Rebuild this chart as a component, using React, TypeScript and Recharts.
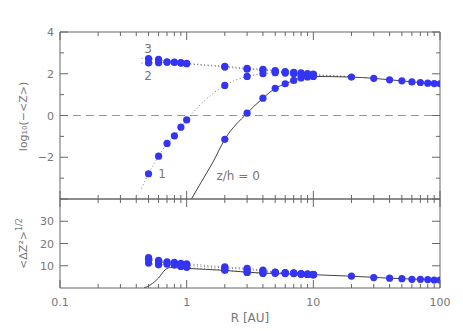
import React from 'react';
import {
  ComposedChart, Scatter, Line, XAxis, YAxis, ReferenceLine, ReferenceDot, Label,
} from 'recharts';

// radii of the simulated points
const R_SIM = [0.5, 0.6, 0.7, 0.8, 0.9, 1, 2, 3, 4, 5, 6, 7, 8, 9, 10];
const R_MID = [2, 3, 4, 5, 6, 7, 8, 9, 10, 20, 30, 40, 50, 60, 70, 80, 90, 100];
const R_DOTTED = [0.44, 0.5, 0.6, 0.7, 0.8, 0.9, 1, 2, 3, 4, 5, 6, 7, 8, 9, 10, 20];

// top panel: log10(-<Z>)
const LOGZ_3 = [2.72, 2.69, 2.57, 2.56, 2.53, 2.5, 2.36, 2.26, 2.21, 2.15, 2.1, 2.07, 2.04, 2.01, 1.98];
const LOGZ_2 = [2.52, 2.53, 2.55, 2.54, 2.51, 2.48, 2.32, 2.22, 2.17, 2.12, 2.07, 2.04, 2.0, 1.97, 1.95];
const LOGZ_1 = [-2.79, -1.95, -1.34, -0.98, -0.56, -0.21, 1.44, 1.87, 2.0, 2.05, 2.03, 2.0, 1.93, 1.9, 1.89];
const LOGZ_0 = [-1.14, 0.11, 0.83, 1.3, 1.52, 1.68, 1.8, 1.85, 1.87, 1.84, 1.78, 1.71, 1.66, 1.61, 1.58, 1.55, 1.53, 1.52];

// model curves, top panel
const LOGZ_CURVE_3 = [2.74, ...LOGZ_3, 1.86];
const LOGZ_CURVE_2 = [2.51, ...LOGZ_2, 1.86];
const LOGZ_CURVE_1 = [-3.5, ...LOGZ_1, 1.86];
const R_MODEL_0 = [1.09, 1.3, 1.6, 2, 3, 4, 5, 6, 7, 8, 9, 10, 20, 30, 40, 50, 60, 70, 80, 90, 100];
const LOGZ_MODEL_0 = [-4, -3.2, -2.27, -1.14, 0.11, 0.83, 1.3, 1.52, 1.68, 1.8, 1.85, 1.87, 1.84, 1.78, 1.71, 1.66, 1.61, 1.58, 1.55, 1.53, 1.52];

// bottom panel: <dZ^2>^(1/2)
const DZ_3 = [13.7, 12.4, 11.8, 11.5, 11.1, 10.9, 9.5, 8.8, 8.0, 7.2, 6.9, 6.8, 6.5, 6.3, 6.1];
const DZ_2 = [12.9, 11.8, 11.3, 11.0, 10.6, 10.3, 9.0, 8.3, 7.6, 7.0, 6.8, 6.7, 6.4, 6.2, 6.0];
const DZ_1 = [11.2, 10.4, 10.7, 10.3, 9.7, 9.3, 8.1, 7.1, 6.6, 6.8, 6.6, 6.6, 6.3, 6.1, 6.0];
const DZ_0 = [8.0, 7.0, 6.6, 6.6, 6.5, 6.5, 6.2, 6.1, 5.9, 5.3, 4.7, 4.4, 4.2, 3.9, 3.9, 3.8, 3.6, 3.6];
const R_DZ_MODEL = [0.46, 0.52, 0.6, 0.68, 0.75, 1, 2, 3, 4, 5, 7, 10, 20, 30, 40, 50, 60, 70, 80, 90, 100];
const DZ_MODEL_0 = [0, 1.5, 4.5, 8.3, 9.2, 8.8, 7.9, 7.1, 6.7, 6.5, 6.3, 6.0, 5.3, 4.8, 4.4, 4.2, 4.0, 3.9, 3.8, 3.7, 3.6];

// axes
const X_TICKS = [0.1, 0.2, 0.3, 0.4, 0.5, 0.6, 0.7, 0.8, 0.9, 1, 2, 3, 4, 5, 6, 7, 8, 9, 10, 20, 30, 40, 50, 60, 70, 80, 90, 100];
const X_MAJOR = [0.1, 1, 10, 100];
const X_LABELS = ['0.1', '1', '10', '100'];
const TOP_Y_TICKS = [-4, -3, -2, -1, 0, 1, 2, 3, 4];
const TOP_Y_MAJOR = [-4, -2, 0, 2, 4];
const TOP_Y_LABELED = [-2, 0, 2, 4];
const BOT_Y_TICKS = [10, 20, 30];

const FONT = '"DejaVu Sans", sans-serif';
const AXIS = '#666';
const TEXT = '#777';
const DOT = '#3434f4';

const pts = (xs: number[], ys: number[]) => xs.map((x, i) => ({ x, y: ys[i] }));

const fmtNum = (v: number) => (v < 0 ? `\u2212${-v}` : `${v}`);

type Side = 'top' | 'bottom' | 'left' | 'right';

const tickFactory = (side: Side, majors: number[], labeled: number[], fmt: (v: number) => string) =>
  (props: any) => {
    const { x, y, payload } = props;
    const v = payload.value as number;
    const len = majors.includes(v) ? 8 : 4;
    let x2 = x;
    let y2 = y;
    if (side === 'bottom') y2 = y - len;
    if (side === 'top') y2 = y + len;
    if (side === 'left') x2 = x + len;
    if (side === 'right') x2 = x - len;
    const show = labeled.includes(v);
    return (
      <g>
        <line x1={x} y1={y} x2={x2} y2={y2} stroke={AXIS} strokeWidth={1} />
        {show && side === 'bottom' && (
          <text x={x} y={y + 18} textAnchor="middle" fill={TEXT} fontSize={11} fontFamily={FONT}>{fmt(v)}</text>
        )}
        {show && side === 'left' && (
          <text x={x - 6} y={y + 4} textAnchor="end" fill={TEXT} fontSize={11} fontFamily={FONT}>{fmt(v)}</text>
        )}
      </g>
    );
  };

const xLabel = (v: number) => X_LABELS[X_MAJOR.indexOf(v)] ?? '';

const dotShape = (p: any) => <circle cx={p.cx} cy={p.cy} r={3.6} fill={DOT} />;

const axisCommon = {
  tickSize: 0,
  tickMargin: 0,
  interval: 0 as const,
  allowDataOverflow: true,
  axisLine: { stroke: AXIS },
};

const TopYLabel = ({ viewBox }: any) => {
  const cx = viewBox.x + 27;
  const cy = viewBox.y + viewBox.height / 2 + 1;
  return (
    <text x={cx} y={cy} transform={`rotate(-90, ${cx}, ${cy})`} textAnchor="middle" fill={TEXT} fontSize={11} fontFamily={FONT}>
      log₁₀(−&lt;Z&gt;)
    </text>
  );
};

const BotYLabel = ({ viewBox }: any) => {
  const cx = viewBox.x + 27;
  const cy = viewBox.y + viewBox.height / 2;
  return (
    <text x={cx} y={cy} transform={`rotate(-90, ${cx}, ${cy})`} textAnchor="middle" fill={TEXT} fontSize={11} fontFamily={FONT}>
      <tspan>&lt;ΔZ²&gt;</tspan>
      <tspan dy={-5} fontSize={8}>1/2</tspan>
    </text>
  );
};

const XTitle = ({ viewBox }: any) => (
  <text x={viewBox.x + viewBox.width / 2} y={viewBox.y + 34} textAnchor="middle" fill={TEXT} fontSize={12} fontFamily={FONT}>
    R [AU]
  </text>
);

const textLabel = (value: string) => ({ value, position: 'center' as const, fill: TEXT, fontSize: 12, fontFamily: FONT });

const TopPanel = () => (
  <ComposedChart width={463} height={200} margin={{ top: 0, right: 0, bottom: 0, left: 0 }}>
    <XAxis dataKey="x" type="number" scale="log" domain={[0.1, 100]} ticks={X_TICKS} height={1}
      {...axisCommon} tick={tickFactory('bottom', X_MAJOR, [], xLabel)} />
    <XAxis xAxisId="top" dataKey="x" orientation="top" type="number" scale="log" domain={[0.1, 100]} ticks={X_TICKS} height={32}
      {...axisCommon} tick={tickFactory('top', X_MAJOR, [], xLabel)} />
    <YAxis type="number" domain={[-4, 4]} ticks={TOP_Y_TICKS} width={60}
      {...axisCommon} tick={tickFactory('left', TOP_Y_MAJOR, TOP_Y_LABELED, fmtNum)}>
      <Label content={<TopYLabel />} />
    </YAxis>
    <YAxis yAxisId="right" orientation="right" type="number" domain={[-4, 4]} ticks={TOP_Y_TICKS} width={23}
      {...axisCommon} tick={tickFactory('right', TOP_Y_MAJOR, [], fmtNum)} />
    <ReferenceLine y={0} stroke="#999" strokeDasharray="8 5" />
    <Line data={pts(R_DOTTED, LOGZ_CURVE_3)} dataKey="y" type="monotone" stroke="#777" strokeDasharray="1 2.5" dot={false} isAnimationActive={false} />
    <Line data={pts(R_DOTTED, LOGZ_CURVE_2)} dataKey="y" type="monotone" stroke="#777" strokeDasharray="1 2.5" dot={false} isAnimationActive={false} />
    <Line data={pts(R_DOTTED, LOGZ_CURVE_1)} dataKey="y" type="monotone" stroke="#777" strokeDasharray="1 2.5" dot={false} isAnimationActive={false} />
    <Line data={pts(R_MODEL_0, LOGZ_MODEL_0)} dataKey="y" type="monotone" stroke="#444" dot={false} isAnimationActive={false} />
    <Scatter data={pts(R_SIM, LOGZ_3)} dataKey="y" shape={dotShape} isAnimationActive={false} />
    <Scatter data={pts(R_SIM, LOGZ_2)} dataKey="y" shape={dotShape} isAnimationActive={false} />
    <Scatter data={pts(R_SIM, LOGZ_1)} dataKey="y" shape={dotShape} isAnimationActive={false} />
    <Scatter data={pts(R_MID, LOGZ_0)} dataKey="y" shape={dotShape} isAnimationActive={false} />
    <ReferenceDot x={0.495} y={3.18} r={1} fill="none" stroke="none" label={textLabel('3')} />
    <ReferenceDot x={0.495} y={1.92} r={1} fill="none" stroke="none" label={textLabel('2')} />
    <ReferenceDot x={0.64} y={-2.79} r={1} fill="none" stroke="none" label={textLabel('1')} />
    <ReferenceDot x={2.55} y={-2.87} r={1} fill="none" stroke="none" label={textLabel('z/h = 0')} />
  </ComposedChart>
);

const BottomPanel = () => (
  <ComposedChart width={463} height={133} margin={{ top: 0, right: 0, bottom: 0, left: 0 }}>
    <XAxis dataKey="x" type="number" scale="log" domain={[0.1, 100]} ticks={X_TICKS} height={43}
      {...axisCommon} tick={tickFactory('bottom', X_MAJOR, X_MAJOR, xLabel)}>
      <Label content={<XTitle />} />
    </XAxis>
    <XAxis xAxisId="top" dataKey="x" orientation="top" type="number" scale="log" domain={[0.1, 100]} ticks={X_TICKS} height={1}
      {...axisCommon} tick={tickFactory('top', X_MAJOR, [], xLabel)} />
    <YAxis type="number" domain={[0, 40]} ticks={BOT_Y_TICKS} width={60}
      {...axisCommon} tick={tickFactory('left', BOT_Y_TICKS, BOT_Y_TICKS, fmtNum)}>
      <Label content={<BotYLabel />} />
    </YAxis>
    <YAxis yAxisId="right" orientation="right" type="number" domain={[0, 40]} ticks={BOT_Y_TICKS} width={23}
      {...axisCommon} tick={tickFactory('right', BOT_Y_TICKS, [], fmtNum)} />
    <Line data={pts(R_SIM, DZ_3)} dataKey="y" type="monotone" stroke="#777" strokeDasharray="1 2.5" dot={false} isAnimationActive={false} />
    <Line data={pts(R_SIM, DZ_2)} dataKey="y" type="monotone" stroke="#777" strokeDasharray="1 2.5" dot={false} isAnimationActive={false} />
    <Line data={pts(R_SIM, DZ_1)} dataKey="y" type="monotone" stroke="#777" strokeDasharray="1 2.5" dot={false} isAnimationActive={false} />
    <Line data={pts(R_DZ_MODEL, DZ_MODEL_0)} dataKey="y" type="monotone" stroke="#444" dot={false} isAnimationActive={false} />
    <Scatter data={pts(R_SIM, DZ_3)} dataKey="y" shape={dotShape} isAnimationActive={false} />
    <Scatter data={pts(R_SIM, DZ_2)} dataKey="y" shape={dotShape} isAnimationActive={false} />
    <Scatter data={pts(R_SIM, DZ_1)} dataKey="y" shape={dotShape} isAnimationActive={false} />
    <Scatter data={pts(R_MID, DZ_0)} dataKey="y" shape={dotShape} isAnimationActive={false} />
  </ComposedChart>
);

export default function App() {
  return (
    <div style={{ position: 'absolute', left: 0, top: 0, width: 463, height: 331, background: '#fff' }}>
      <div style={{ position: 'absolute', left: 0, top: 0 }}>
        <TopPanel />
      </div>
      <div style={{ position: 'absolute', left: 0, top: 198 }}>
        <BottomPanel />
      </div>
    </div>
  );
}
